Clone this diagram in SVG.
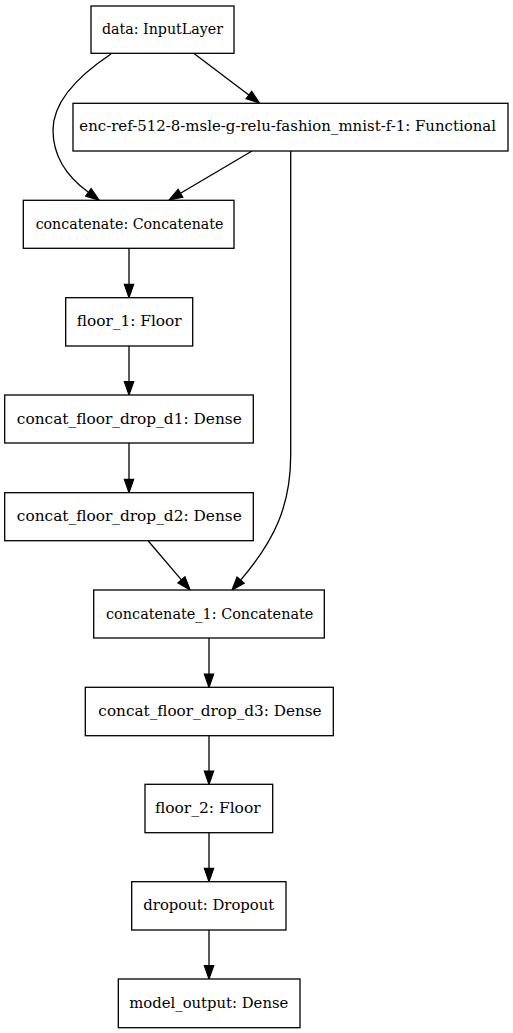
<svg xmlns="http://www.w3.org/2000/svg" width="513" height="1033" viewBox="0 0 513 1033">
<style>
.n rect{fill:#fff;stroke:#000;stroke-width:1.3}
.n text{font-family:"DejaVu Serif","Liberation Serif",serif;font-size:15.2px;fill:#000;text-anchor:middle}
.e path{fill:none;stroke:#000;stroke-width:1.3;marker-end:url(#ah)}
</style>
<defs>
<marker id="ah" markerUnits="userSpaceOnUse" markerWidth="14" markerHeight="10" refX="0" refY="4.67" orient="auto" overflow="visible">
<path d="M0,0 L13.33,4.67 L0,9.33 Z" fill="#000" stroke="#000" stroke-width="1.2"/>
</marker>
</defs>
<rect width="513" height="1033" fill="#fff"/>
<g class="e" id="edges">
<path d="M194,53.5 L248.9,95"/>
<path d="M111,54 C75,78 53,104 53,130 C53,155 66,176 88.4,192.3"/>
<path d="M252,151 L180.5,193.2"/>
<path d="M290.7,151 V455 C290.7,505 275,540 240.6,580.1"/>
<path d="M129,248.3 V284.4"/>
<path d="M129,346 V381.7"/>
<path d="M129,443 V479.4"/>
<path d="M148.3,541 L181.4,579.8"/>
<path d="M209,638 V674"/>
<path d="M209,735.7 V771"/>
<path d="M209,832.7 V868.4"/>
<path d="M209,930 V965.7"/>
</g>
<g class="n" id="data"><rect x="91" y="6" width="143" height="47.3"/><text x="162.5" y="34.2" textLength="121" lengthAdjust="spacingAndGlyphs">data: InputLayer</text></g>
<g class="n" id="enc"><rect x="73" y="103.3" width="435" height="47.7"/><text x="287.7" y="131.4" textLength="416.7" lengthAdjust="spacingAndGlyphs">enc-ref-512-8-msle-g-relu-fashion_mnist-f-1: Functional</text></g>
<g class="n" id="concatenate"><rect x="23.3" y="200.3" width="210.7" height="48"/><text x="129.5" y="228.8" textLength="187.7" lengthAdjust="spacingAndGlyphs">concatenate: Concatenate</text></g>
<g class="n" id="floor_1"><rect x="65.7" y="297.7" width="127" height="48.3"/><text x="129.2" y="326.3" textLength="105" lengthAdjust="spacingAndGlyphs">floor_1: Floor</text></g>
<g class="n" id="concat_floor_drop_d1"><rect x="4.7" y="395" width="248.6" height="48"/><text x="129.3" y="423.5" textLength="225" lengthAdjust="spacingAndGlyphs">concat_floor_drop_d1: Dense</text></g>
<g class="n" id="concat_floor_drop_d2"><rect x="4.7" y="492.7" width="248.6" height="48"/><text x="129.3" y="521.2" textLength="225" lengthAdjust="spacingAndGlyphs">concat_floor_drop_d2: Dense</text></g>
<g class="n" id="concatenate_1"><rect x="93.7" y="590" width="230.6" height="48"/><text x="209.7" y="618.5" textLength="207.3" lengthAdjust="spacingAndGlyphs">concatenate_1: Concatenate</text></g>
<g class="n" id="concat_floor_drop_d3"><rect x="85.3" y="687.3" width="248" height="48.4"/><text x="210" y="716" textLength="223.3" lengthAdjust="spacingAndGlyphs">concat_floor_drop_d3: Dense</text></g>
<g class="n" id="floor_2"><rect x="145" y="784.3" width="127.7" height="48.4"/><text x="207.8" y="813" textLength="105.7" lengthAdjust="spacingAndGlyphs">floor_2: Floor</text></g>
<g class="n" id="dropout"><rect x="131.7" y="881.7" width="154.3" height="48.3"/><text x="208.8" y="910.3" textLength="131" lengthAdjust="spacingAndGlyphs">dropout: Dropout</text></g>
<g class="n" id="model_output"><rect x="118.3" y="979" width="181.7" height="48.7"/><text x="208.8" y="1007.8" textLength="159" lengthAdjust="spacingAndGlyphs">model_output: Dense</text></g>
</svg>
